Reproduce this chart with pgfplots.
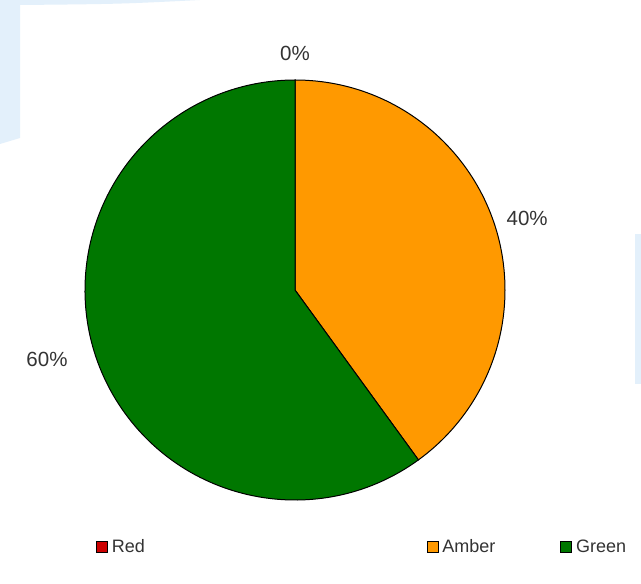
\documentclass[border=0pt]{standalone}
\usepackage{pgfplots}
\pgfplotsset{compat=1.18}
\usepackage{pgfplotstable}
\usepackage{fontspec}
\setmainfont{Liberation Sans}
\definecolor{chartred}{HTML}{CC0000}
\definecolor{chartamber}{HTML}{FF9900}
\definecolor{chartgreen}{HTML}{007700}
\definecolor{bgblue}{HTML}{E3F0FB}
\definecolor{labelgray}{HTML}{333333}
\pgfplotstableread{
label value
Red 0
Amber 40
Green 60
}\piedata
\begin{document}
\begin{tikzpicture}[x=1pt,y=1pt]
\useasboundingbox (0,0) rectangle (641,584);
% page background
\fill[white] (0,0) rectangle (641,584);
\fill[bgblue] (0,584) -- (200,584) .. controls (120,580) .. (20,579) -- (20,446) .. controls (10,443) .. (0,440) -- cycle;
\fill[bgblue] (635,350) rectangle (641,200);
% values
\pgfplotstablegetelem{0}{value}\of\piedata \let\vR\pgfplotsretval
\pgfplotstablegetelem{1}{value}\of\piedata \let\vA\pgfplotsretval
\pgfplotstablegetelem{2}{value}\of\piedata \let\vG\pgfplotsretval
\pgfmathsetmacro\sR{90}
\pgfmathsetmacro\eR{\sR-3.6*\vR}
\pgfmathsetmacro\eA{\eR-3.6*\vA}
\pgfmathsetmacro\eG{\eA-3.6*\vG}
\pgfmathsetmacro\mR{(\sR+\eR)/2}
\pgfmathsetmacro\mA{(\eR+\eA)/2}
\pgfmathsetmacro\mG{(\eA+\eG)/2}
\pgfmathtruncatemacro\nR{\mR+180}
\pgfmathtruncatemacro\nA{\mA+180}
\pgfmathtruncatemacro\nG{\mG+180}
\begin{axis}[
  at={(0,0)}, anchor=south west,
  scale only axis, width=641pt, height=584pt,
  xmin=-295, xmax=346, ymin=-294, ymax=290,
  hide axis, clip=false,
  legend columns=3,
  legend image code/.code={\draw[#1,draw=black,line width=0.8pt] (0pt,-5.5pt) rectangle (11pt,5.5pt); \path (13pt,0pt);},
  legend style={at={(axis cs:-199,-257)}, anchor=west, draw=none, fill=none,
    font=\fontsize{18}{20}\selectfont, text=labelgray, inner sep=0pt,
    /tikz/column 2/.style={column sep=280pt},
    /tikz/column 4/.style={column sep=63pt}},
]
\filldraw[fill=chartred, draw=black, line width=1pt] (axis cs:0,0) -- (axis cs:{210*cos(\sR)},{210*sin(\sR)}) arc[start angle=\sR, end angle=\eR, radius=210pt] -- cycle;
\filldraw[fill=chartamber, draw=black, line width=1pt] (axis cs:0,0) -- (axis cs:{210*cos(\eR)},{210*sin(\eR)}) arc[start angle=\eR, end angle=\eA, radius=210pt] -- cycle;
\filldraw[fill=chartgreen, draw=black, line width=1pt] (axis cs:0,0) -- (axis cs:{210*cos(\eA)},{210*sin(\eA)}) arc[start angle=\eA, end angle=\eG, radius=210pt] -- cycle;
\node[anchor=\nR, font=\fontsize{20.5}{22}\selectfont, text=labelgray] at (axis cs:{226*cos(\mR)},{226*sin(\mR)}) {\vR\%};
\node[anchor=\nA, font=\fontsize{20.5}{22}\selectfont, text=labelgray] at (axis cs:{222*cos(\mA)-3},{222*sin(\mA)-4}) {\vA\%};
\node[anchor=\nG, font=\fontsize{20.5}{22}\selectfont, text=labelgray] at (axis cs:{226*cos(\mG)-9},{226*sin(\mG)+8}) {\vG\%};
\addlegendimage{fill=chartred}
\addlegendentry{Red}
\addlegendimage{fill=chartamber}
\addlegendentry{Amber}
\addlegendimage{fill=chartgreen}
\addlegendentry{Green}
\end{axis}
\end{tikzpicture}
\end{document}
